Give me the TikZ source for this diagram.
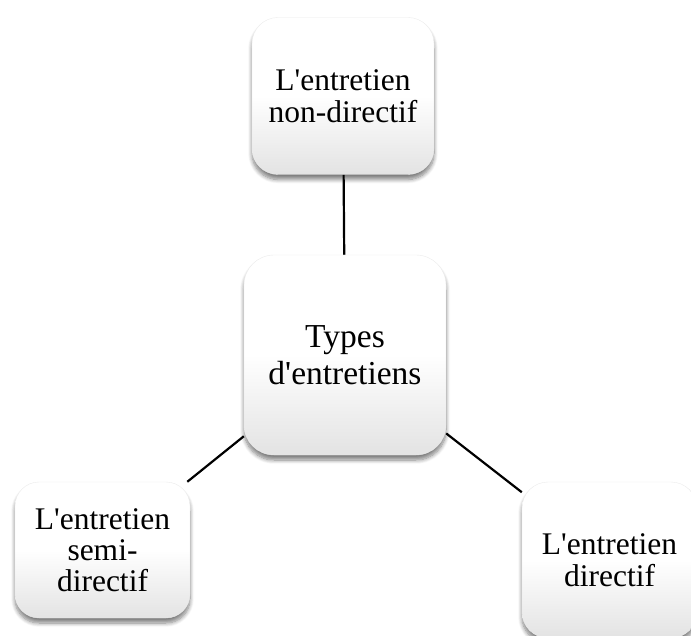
\documentclass[tikz,border=0pt]{standalone}
\usepackage{fontspec}
\setmainfont{Liberation Serif}
% plain family without TeX ligatures, so ' stays a straight apostrophe
\newfontfamily\cardfont{Liberation Serif}
\usetikzlibrary{shadows.blur,backgrounds}

\tikzset{
  card/.style={
    rectangle, rounded corners=26pt, inner sep=0pt, align=center,
    top color=white, bottom color=black!11, middle color=white,
    draw=black!8, line width=0.4pt,
    blur shadow={shadow xshift=0pt, shadow yshift=-5pt,
      shadow blur steps=8, shadow blur radius=4pt, shadow opacity=50},
    font=\cardfont\fontsize{31.5}{32.5}\selectfont
  },
  link/.style={draw=black, line width=2.2pt}
}

\begin{document}
\begin{tikzpicture}[x=1pt,y=-1pt]
  \clip (0,0) rectangle (691,636);
  \useasboundingbox (0,0) rectangle (691,636);

  % central node and its three satellites
  \node[card, minimum width=202pt, minimum height=200pt, rounded corners=30pt,
        font=\cardfont\fontsize{33.5}{37}\selectfont]
        (hub) at (345,355) {Types\\d'entretiens};
  \node[card, minimum width=182pt, minimum height=157pt]
        (nondir) at (343,96) {L'entretien\\non-directif};
  \node[card, minimum width=175pt, minimum height=136pt, rounded corners=24pt,
        font=\cardfont\fontsize{31.5}{31}\selectfont]
        (semi) at (102.5,550) {L'entretien\\semi-\\directif};
  \node[card, minimum width=175pt, minimum height=156pt]
        (dir) at (609.5,560) {L'entretien\\directif};

  % connectors behind the cards
  \begin{scope}[on background layer]
    \draw[link] (hub) -- (nondir);
    \draw[link] (hub) -- (semi);
    \draw[link] (hub) -- (dir);
  \end{scope}
\end{tikzpicture}
\end{document}
